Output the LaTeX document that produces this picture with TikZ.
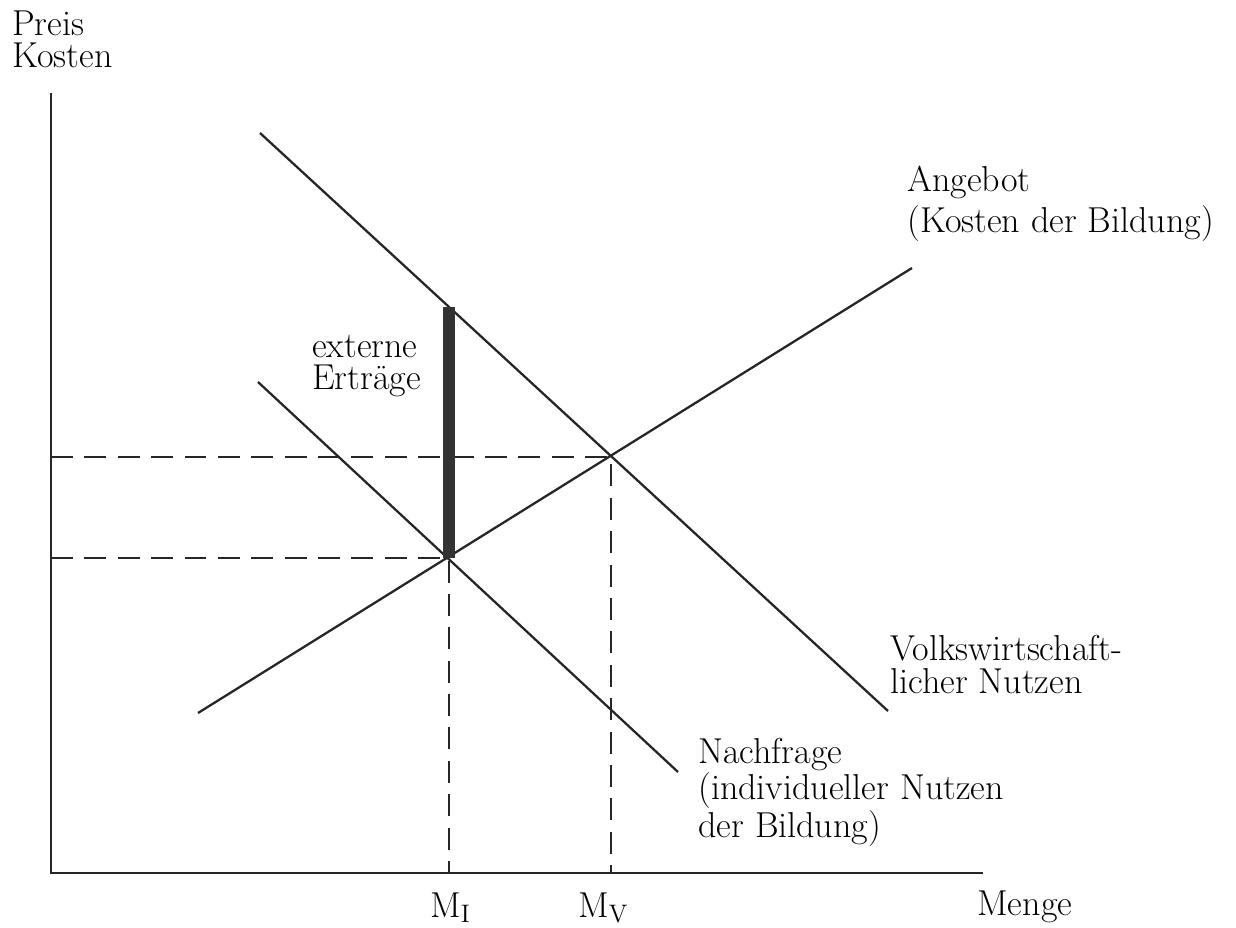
\documentclass[tikz,border=0pt]{standalone}
\usepackage{tikz}
\usetikzlibrary{calc}
\tikzstyle{achse}=[line width=1.5pt, draw=black!85]
\tikzstyle{kurve}=[line width=1.3pt, draw=black!85]
\tikzstyle{hilf}=[line width=1.2pt, draw=black!85, dash pattern=on 12.5pt off 6.5pt]
\tikzstyle{ertrag}=[line width=6.5pt, draw=black!80]
\tikzstyle{beschr}=[inner sep=0pt, anchor=base west, align=left,% base = last line
font=\fontsize{20.5pt}{18.6pt}\selectfont]

\begin{document}
\begin{tikzpicture}[x=0.02cm,y=-0.02cm]
\useasboundingbox (0,0) rectangle (1236,928);
\coordinate (o) at (51,873);
\coordinate (ytop) at (51,93);
\coordinate (xend) at (983,873);
\coordinate (v1) at (260,133);
\coordinate (v2) at (888,711);
\coordinate (n1) at (258,382);
\coordinate (n2) at (678,772);
\coordinate (a1) at (198,713);
\coordinate (a2) at (912,268);
\coordinate (gi) at (449,558);
\coordinate (gv) at (611,457);
\coordinate (ext) at (449,307);
\draw[achse] (ytop) -- (o) -- (xend);
\draw[hilf] (o |- gv) -- (gv) -- (o -| gv);
\draw[hilf] (o |- gi) -- (gi) -- (o -| gi);
\draw[kurve] (v1) -- (v2);
\draw[kurve] (n1) -- (n2);
\draw[kurve] (a1) -- (a2);
\draw[ertrag] (ext) -- (gi);
\node[beschr] (preis) at (12,68) {Preis\\Kosten};
\node[beschr] (angebot) at (907,192) {Angebot};
\node[beschr] (kosten) at (907,233) {(Kosten der Bildung)};
\node[beschr] (extern) at (312,390) {externe\\Erträge};
\node[beschr] (volks) at (890,693) {Volkswirtschaft-\\licher Nutzen};
\node[beschr] (nachfrage) at (698,837) {Nachfrage\\(individueller Nutzen\\der Bildung)};
\node[beschr] (mi) at (430,917) {M$_\mathrm{I}$};
\node[beschr] (mv) at (578,917) {M$_\mathrm{V}$};
\node[beschr] (menge) at (977,915) {Menge};
\end{tikzpicture}
\end{document}
